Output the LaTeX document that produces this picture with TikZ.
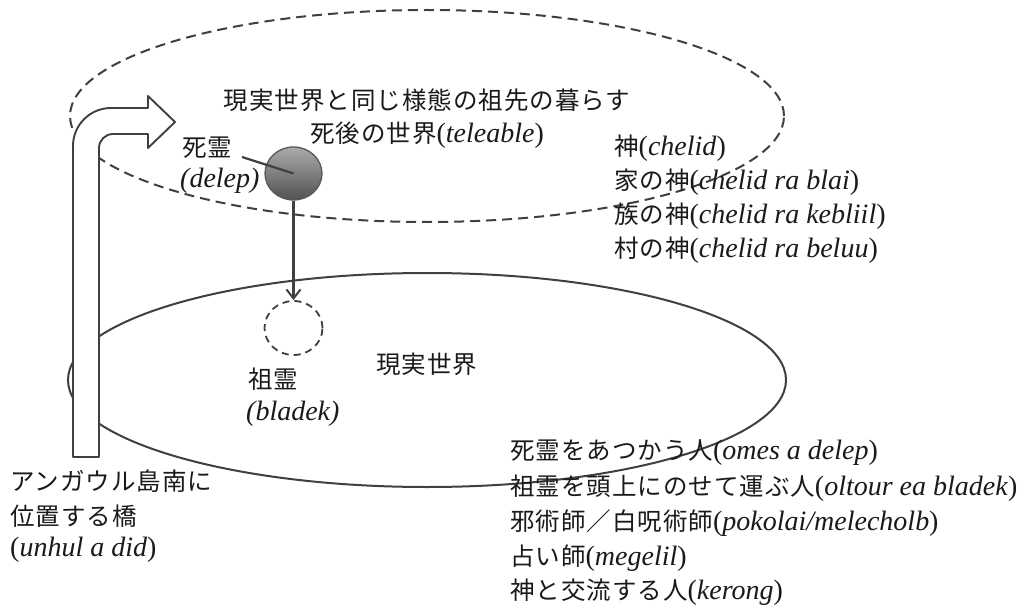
\documentclass[tikz,border=0pt]{standalone}
\usepackage{fontspec}
\setmainfont{Liberation Serif}
\newfontfamily\jp[LetterSpace=4]{Noto Sans CJK JP}
\usetikzlibrary{arrows.meta,shapes.geometric}
\definecolor{ink}{HTML}{1A1A1A}
\definecolor{edge}{HTML}{404040}
\newcommand\jtx[1]{{\jp\fontsize{24.5}{30}\selectfont #1}}
\newcommand\ltx[1]{{\fontsize{28}{30}\selectfont(\textit{#1})}}
\newcommand\ilt[1]{{\fontsize{28}{30}\selectfont\textit{(#1)}}}
\begin{document}
\begin{tikzpicture}[x=1pt,y=-1pt,
  txt/.style={anchor=west,inner sep=0pt,text=ink},
  ctxt/.style={anchor=center,inner sep=0pt,text=ink},
  dashline/.style={draw=edge,line width=2pt,dash pattern=on 10pt off 6pt},
  solidline/.style={draw=edge,line width=2pt},
  bridge/.style={draw=edge,line width=1.9pt,fill=white,line join=round}]
\useasboundingbox (0,0) rectangle (1033,607);
\fill[white] (0,0) rectangle (1033,607);

% the two worlds
\node (afterlife) [ellipse,dashline,minimum width=714pt,minimum height=212pt,inner sep=0pt] at (427,116) {};
\node (realworld) [ellipse,solidline,minimum width=718pt,minimum height=214pt,inner sep=0pt] at (427,380) {};

% bridge arrow
\path[bridge] (73,457) -- (73,146) .. controls (73,125) and (90,108) .. (111,108)
  -- (148,108) -- (148,96) -- (175,122) -- (148,148) -- (148,134) -- (113,134)
  .. controls (105.3,134) and (99,140.3) .. (99,148) -- (99,457) -- cycle;

% spirits
\node (delep) [ellipse,minimum width=57pt,minimum height=53pt,inner sep=0pt,
  draw=black!65,line width=1.3pt,top color=black!33,bottom color=black!68] at (293.5,173.5) {};
\node (bladek) [ellipse,minimum width=58pt,minimum height=54pt,inner sep=0pt,
  draw=edge,line width=1.8pt,dash pattern=on 7pt off 5pt] at (293.5,328) {};
\coordinate (delepmark) at (242,157);
\draw[draw=edge,line width=2.2pt] (delepmark) -- (delep.center);
\draw[draw=edge,line width=2.2pt,-{Straight Barb[length=9pt,width=14pt,line width=2pt]}] (delep) -- (bladek);

% texts
\node (t1) [ctxt] at (427,100) {\jtx{現実世界と同じ様態の祖先の暮らす}};
\node (t2) [ctxt] at (427,135) {\jtx{死後の世界}\ltx{teleable}};
\node (d1) [txt] at (182,148) {\jtx{死霊}};
\node (d2) [txt] at (180,181) {\ilt{delep}};

\node (g1) [txt] at (614,148) {\jtx{神}\ltx{chelid}};
\node (g2) [txt] at (614,182) {\jtx{家の神}\ltx{chelid ra blai}};
\node (g3) [txt] at (614,216) {\jtx{族の神}\ltx{chelid ra kebliil}};
\node (g4) [txt] at (614,250) {\jtx{村の神}\ltx{chelid ra beluu}};

\node (b1) [txt] at (248,379) {\jtx{祖霊}};
\node (b2) [txt] at (246,414) {\ilt{bladek}};
\node (rw) [txt] at (376,364) {\jtx{現実世界}};

\node (u1) [txt] at (10,481) {\jtx{アンガウル島南に}};
\node (u2) [txt] at (10,516) {\jtx{位置する橋}};
\node (u3) [txt] at (10,550) {\ltx{unhul a did}};

\node (p1) [txt] at (510,453) {\jtx{死霊をあつかう人}\ltx{omes a delep}};
\node (p2) [txt] at (510,488) {\jtx{祖霊を頭上にのせて運ぶ人}\ltx{oltour ea bladek}};
\node (p3) [txt] at (510,523) {\jtx{邪術師／白呪術師}\ltx{pokolai/melecholb}};
\node (p4) [txt] at (510,558) {\jtx{占い師}\ltx{megelil}};
\node (p5) [txt] at (510,592) {\jtx{神と交流する人}\ltx{kerong}};
\end{tikzpicture}
\end{document}
